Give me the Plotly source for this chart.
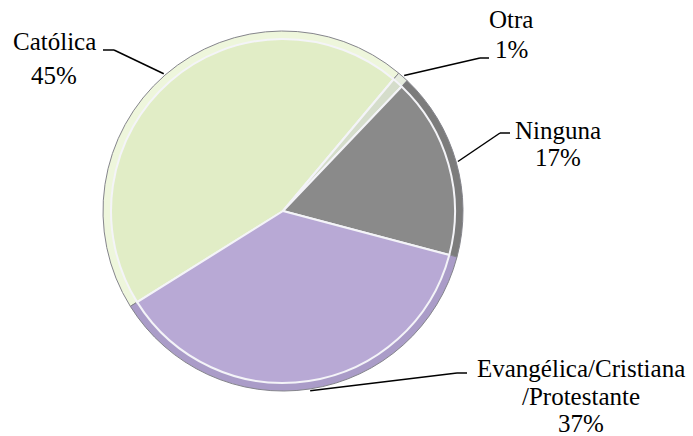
import math
import plotly.graph_objects as go

# Religion shares (percent), drawn clockwise starting with Católica
categories = ["Católica", "Otra", "Ninguna", "Evangélica/Cristiana /Protestante"]
values = [45, 1, 17, 37]
label_lines = [["Católica", "45%"], ["Otra", "1%"], ["Ninguna", "17%"],
               ["Evangélica/Cristiana", "/Protestante", "37%"]]

base_colors = ["#E1EDC6", "#D5DDCB", "#8A8A8A", "#B8A9D5"]
rim_colors = ["#EEF6DC", "#E6ECDF", "#7C7C7C", "#AA9CC8"]

W, H = 693, 436
CX, CY, R = 283, 211, 180          # pie centre and radius in pixels
ROTATION = 238                      # start angle of the first slice (deg, clockwise from 12 o'clock)
BEVEL = 8
FONT = dict(family="Liberation Serif, Times New Roman, serif", size=25, color="black")


def dom(r):
    return dict(x=[(CX - r) / W, (CX + r) / W], y=[1 - (CY + r) / H, 1 - (CY - r) / H])


fig = go.Figure()
# outer rim (bevel) layer
fig.add_trace(go.Pie(
    labels=categories, values=values, sort=False, direction="clockwise",
    rotation=ROTATION, textinfo="none", hoverinfo="skip", showlegend=False,
    marker=dict(colors=rim_colors, line=dict(color="#85858C", width=1)),
    domain=dom(R),
))
# main face layer
fig.add_trace(go.Pie(
    labels=categories, values=values, sort=False, direction="clockwise",
    rotation=ROTATION, textinfo="none", hoverinfo="label+percent", showlegend=False,
    marker=dict(colors=base_colors, line=dict(color="#F4F4F8", width=2)),
    domain=dom(R - BEVEL),
))

# leader elbow (x, y), end of short horizontal stroke (x), text centre x, line centres y
label_layout = [
    (114, 50, 103, 54, [42, 75]),
    (480, 58, 489, 511, [20, 49]),
    (500, 133, 510, 558, [130, 158]),
    (457, 373, 467, 581, [368, 396, 423]),
]

total = sum(values)
shapes = []
annotations = []
start = ROTATION
for v, lines, (ex, ey, hx, tx, tys) in zip(values, label_lines, label_layout):
    span = 360 * v / total
    mid = math.radians(start + span / 2)
    start += span
    px = CX + R * 1.01 * math.sin(mid)
    py = CY - R * 1.01 * math.cos(mid)
    # leader line: slice edge -> elbow -> short horizontal stroke
    for (x0, y0, x1, y1) in [(px, py, ex, ey), (ex, ey, hx, ey)]:
        shapes.append(dict(type="line", xref="paper", yref="paper",
                           x0=x0 / W, y0=1 - y0 / H, x1=x1 / W, y1=1 - y1 / H,
                           line=dict(color="black", width=1.5)))
    for t, ty in zip(lines, tys):
        annotations.append(dict(
            text=t, xref="paper", yref="paper", x=tx / W, y=1 - ty / H,
            xanchor="center", yanchor="middle", showarrow=False, font=FONT,
        ))

fig.update_layout(
    width=W, height=H, margin=dict(l=0, r=0, t=0, b=0),
    paper_bgcolor="white", plot_bgcolor="white",
    shapes=shapes, annotations=annotations,
)

fig.write_html("out.html")
